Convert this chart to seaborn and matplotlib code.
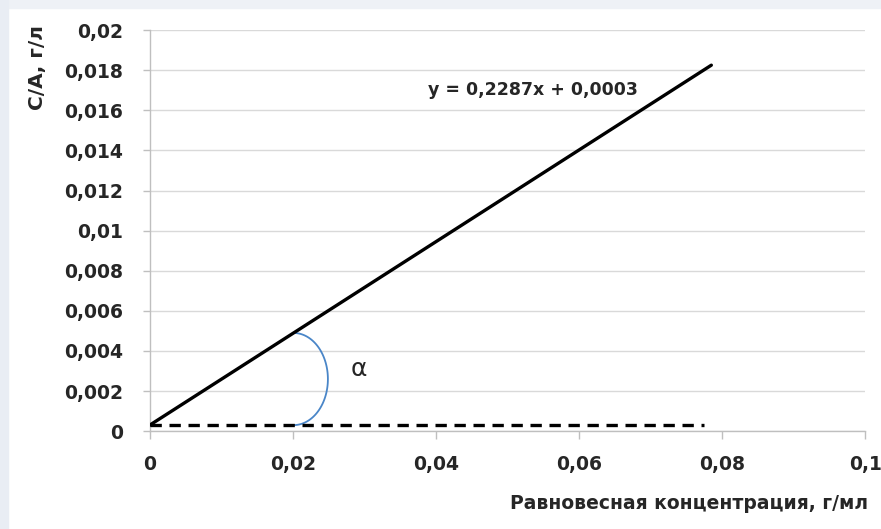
import matplotlib
matplotlib.use('Agg')
import matplotlib.pyplot as plt
import matplotlib.patches as mpatches
import numpy as np
import pandas as pd
import seaborn as sns

# trend line y = 0.2287x + 0.0003
line_x = [0.0, 0.0785]
line_y = [0.0003, 0.2287 * 0.0785 + 0.0003]
# horizontal dashed reference line
base_x = [0.0, 0.0775]
base_y = [0.0003, 0.0003]
x_ticks = [0, 0.02, 0.04, 0.06, 0.08, 0.1]
x_tick_labels = ['0', '0,02', '0,04', '0,06', '0,08', '0,1']
y_ticks = [0, 0.002, 0.004, 0.006, 0.008, 0.01, 0.012, 0.014, 0.016, 0.018, 0.02]
y_tick_labels = ['0', '0,002', '0,004', '0,006', '0,008', '0,01', '0,012',
                 '0,014', '0,016', '0,018', '0,02']
equation = 'y = 0,2287x + 0,0003'
x_label = 'Равновесная концентрация, г/мл'
y_label = 'С/А, г/л'

sns.set_style('white')
plt.rcParams['font.family'] = ['DejaVu Sans']

fig = plt.figure(figsize=(8.81, 5.29), dpi=100)
fig.patch.set_facecolor('white')
# light frame at top and left like the slide background
fig.patches.append(mpatches.Rectangle((0, 0.985), 1, 0.015, transform=fig.transFigure,
                                      color='#eef1f6', zorder=0))
fig.patches.append(mpatches.Rectangle((0, 0), 0.009, 1, transform=fig.transFigure,
                                      color='#e9edf4', zorder=0))

ax = fig.add_axes([0.170, 0.185, 0.812, 0.758])

df_line = pd.DataFrame({'x': line_x, 'y': line_y})
df_base = pd.DataFrame({'x': base_x, 'y': base_y})
sns.lineplot(data=df_line, x='x', y='y', ax=ax, color='black', linewidth=2.4,
             solid_capstyle='round', zorder=3)
ax.plot(df_base['x'], df_base['y'], color='black', linewidth=2.4,
        dashes=(3.4, 2.3), zorder=3)

# angle arc between the two lines at x = 0.02
x0 = 0.0201
y_top = 0.2287 * x0 + 0.0003
y_bot = base_y[0]
yc = (y_top + y_bot) / 2
t = np.linspace(-np.pi / 2, np.pi / 2, 100)
ax.plot(x0 + 0.0048 * np.cos(t), yc + (y_top - y_bot) / 2 * np.sin(t),
        color='#4a86c8', linewidth=1.3, zorder=2)
ax.text(0.0292, 0.0031, 'α', fontsize=18, ha='center', va='center')

ax.text(0.0389, 0.0170, equation, fontsize=12.5, fontweight='bold',
        ha='left', va='center')

ax.set_xlim(0, 0.1)
ax.set_ylim(0, 0.02)
ax.set_xticks(x_ticks)
ax.set_xticklabels(x_tick_labels)
ax.set_yticks(y_ticks)
ax.set_yticklabels(y_tick_labels)
for lab in ax.get_xticklabels() + ax.get_yticklabels():
    lab.set_fontweight('bold')
    lab.set_fontsize(13.5)
ax.tick_params(axis='y', length=5, width=1, color='#bfbfbf', pad=14, direction='out', left=True)
ax.tick_params(axis='x', length=6, width=1, color='#bfbfbf', pad=11, direction='out', bottom=True)
ax.yaxis.grid(True, color='#d9d9d9', linewidth=1)
ax.xaxis.grid(False)
ax.set_axisbelow(True)
for s in ['top', 'right']:
    ax.spines[s].set_visible(False)
for s in ['left', 'bottom']:
    ax.spines[s].set_color('#bfbfbf')
    ax.spines[s].set_linewidth(1)
ax.set_xlabel('')
ax.set_ylabel('')

fig.text(0.985, 0.049, x_label, fontsize=13.5, fontweight='bold', ha='right', va='center')
fig.text(0.043, 0.953, y_label, fontsize=14.5, fontweight='bold', rotation=90,
         ha='center', va='top')

fig.savefig('out.png', dpi=100)
